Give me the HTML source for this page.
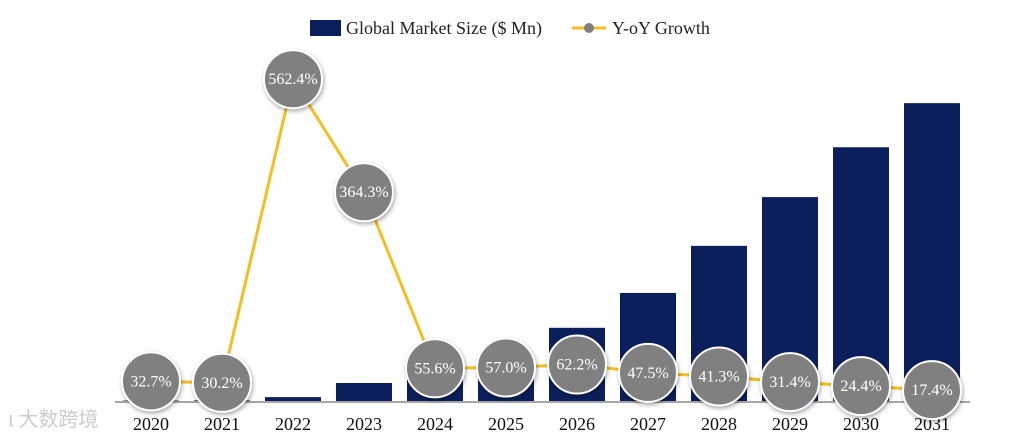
<!DOCTYPE html>
<html><head><meta charset="utf-8"><style>
body{margin:0;background:#fff;width:1012px;height:438px;overflow:hidden}
svg{display:block;font-family:"Liberation Serif","Noto Serif CJK SC",serif}
</style></head><body>
<svg id="chart" width="1012" height="438">
<defs><filter id="sh" x="-30%" y="-30%" width="160%" height="160%"><feDropShadow dx="1" dy="2" stdDeviation="2" flood-color="#000" flood-opacity="0.35"/></filter></defs>
<g>
<rect x="310" y="20" width="31" height="16" fill="#0b1f5c"/>
<text x="346" y="34" font-size="18" fill="#222">Global Market Size ($ Mn)</text>
<line x1="572" y1="28" x2="606" y2="28" stroke="#f5bd1f" stroke-width="3"/>
<circle cx="589" cy="28" r="5" fill="#808080"/>
<text x="612" y="34" font-size="18" fill="#222">Y-oY Growth</text>
</g>
<line x1="115" y1="402" x2="970" y2="402" stroke="#888" stroke-width="1.5"/>
<text x="8" y="426" font-size="20" fill="#ccc" font-family="Noto Sans CJK SC,sans-serif">ι 大数跨境</text>
<g id="bars"></g><g id="xl"></g><g id="ln"></g><g id="pts"></g>
</svg>
<script>
const years=["2020","2021","2022","2023","2024","2025","2026","2027","2028","2029","2030","2031"];
const marketSize=[0.5,0.7,4.4,20.4,31.7,49.8,83.0,122.5,175.9,231.2,287.7,337.7];
const growth=[32.7,30.2,562.4,364.3,55.6,57.0,62.2,47.5,41.3,31.4,24.4,17.4];
const NS="http://www.w3.org/2000/svg";
const xPos=i=>151+i*71.0;
const yBar=v=>401-v*0.882;
const yG=v=>400-v*0.5704;
function mk(t,a,p){const e=document.createElementNS(NS,t);for(const k in a)e.setAttribute(k,a[k]);p.appendChild(e);return e;}
const bars=document.getElementById('bars'),xl=document.getElementById('xl'),ln=document.getElementById('ln'),pts=document.getElementById('pts');
years.forEach((y,i)=>{
 const b=mk('rect',{x:xPos(i)-28,y:yBar(marketSize[i]),width:56,height:401-yBar(marketSize[i]),fill:'#0b1f5c'},bars);
 
 
 const t=mk('text',{x:xPos(i),y:430,'font-size':18,'text-anchor':'middle',fill:'#111'},xl);t.textContent=y;
 
 
});
const pl=mk('polyline',{points:growth.map((g,i)=>xPos(i)+','+yG(g)).join(' '),fill:'none',stroke:'#f5bd1f','stroke-width':3},ln);


growth.forEach((g,i)=>{
 const c=mk('circle',{cx:xPos(i),cy:yG(g),r:29,fill:'#808080',stroke:'#fff','stroke-width':2,filter:'url(#sh)'},pts);
 
 
 const t=mk('text',{x:xPos(i),y:yG(g)+5,'font-size':16,'text-anchor':'middle',fill:'#fff'},pts);t.textContent=g.toFixed(1)+'%';
 
 
});
</script>
</body></html>
